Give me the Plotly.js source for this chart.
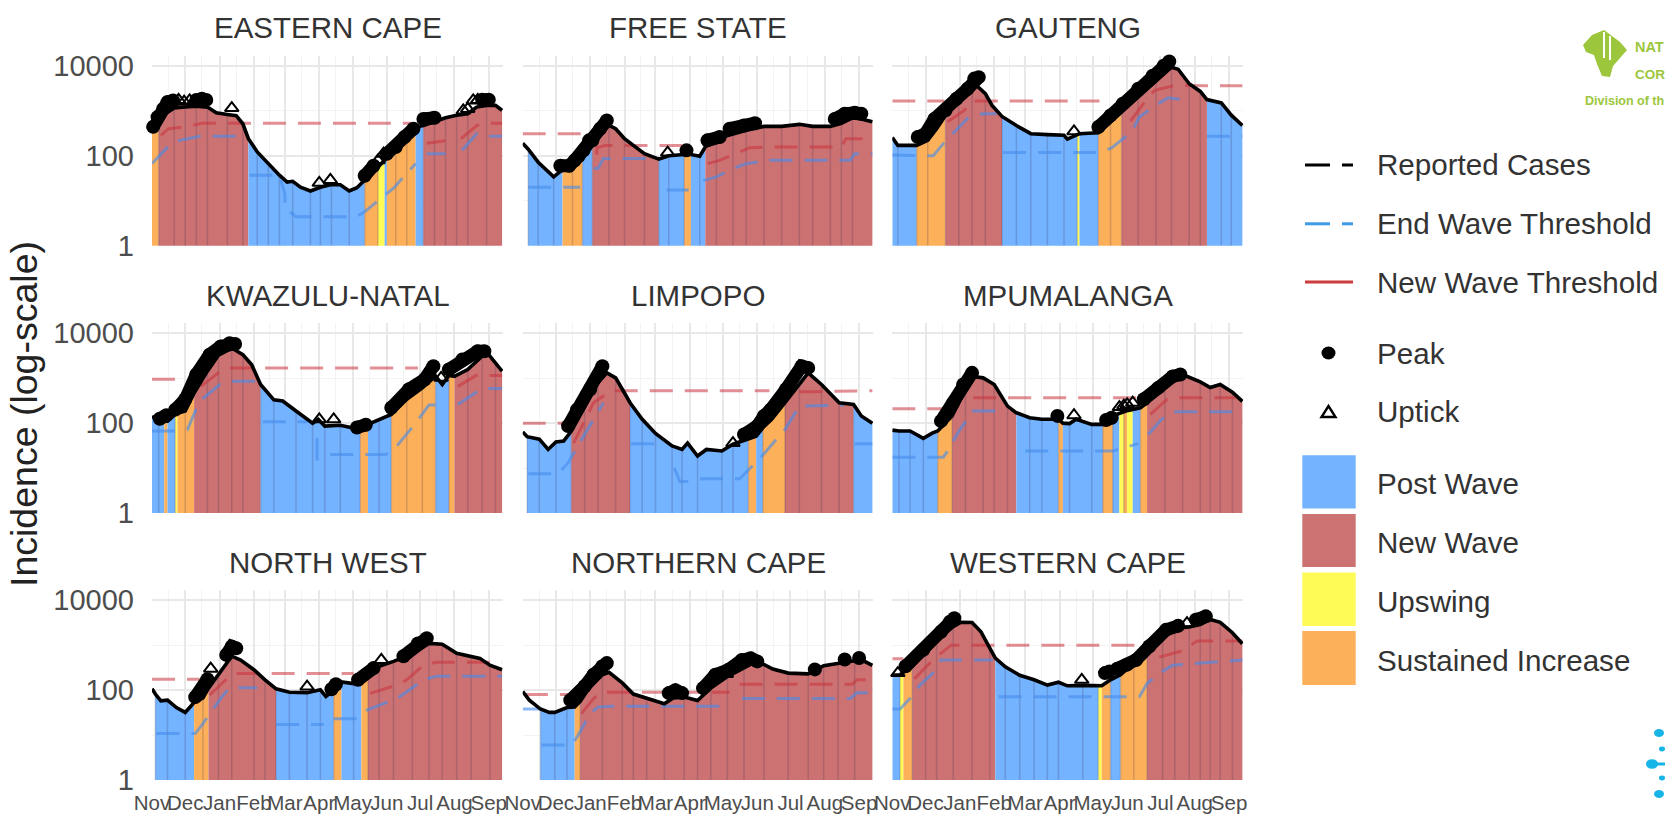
<!DOCTYPE html>
<html>
<head>
<meta charset="utf-8">
<script src="https://cdn.plot.ly/plotly-3.0.1.min.js"></script>
<style>html,body{margin:0;padding:0;background:#fff}</style>
</head>
<body>
<div id="chart" style="width:1665px;height:816px"></div>
<script>
// ---------- shared labels ----------
const provinces = ['EASTERN CAPE','FREE STATE','GAUTENG','KWAZULU-NATAL','LIMPOPO','MPUMALANGA','NORTH WEST','NORTHERN CAPE','WESTERN CAPE'];
const monthStarts = ['2020-11-01','2020-12-01','2021-01-01','2021-02-01','2021-03-01','2021-04-01','2021-05-01','2021-06-01','2021-07-01','2021-08-01','2021-09-01'];
const monthLabels = ['Nov','Dec','Jan','Feb','Mar','Apr','May','Jun','Jul','Aug','Sep'];
const midMonths = ['2020-11-16','2020-12-16','2021-01-16','2021-02-15','2021-03-16','2021-04-16','2021-05-16','2021-06-16','2021-07-16','2021-08-16'];
const yTicks = [1,100,10000];
const yTickText = ['1','100','10000'];
const yMinorTicks = [10,1000];
const stateColors = {P:'#74B3FF',N:'#CC7272',U:'#FEFB57',S:'#FDB05A'};
const legendLines = ['Reported Cases','End Wave Threshold','New Wave Threshold','Peak','Uptick'];
const legendBoxes = ['Post Wave','New Wave','Upswing','Sustained Increase'];

// Days are counted from 1 Nov 2020. Band states: P post wave, N new wave, U upswing, S sustained increase, - none.
// ---------- Eastern Cape ----------
const ecDays = [0,6,10,20,30,40,50,58,68,76,82,87,95,105,115,122,127,134,143,152,162,170,178,185,192,204,210,212,220,230,238,245,255,265,275,285,293,302,310,316];
const ecCases = [480,500,800,1150,1210,1260,1210,900,830,780,515,240,122,67,37,26,27,20,16.5,20,23,22.6,16.5,19.5,28.6,56,79,94,144,262,437,470,570,700,800,860,1210,1320,1320,1020];
const ecBandEnds = [6,87,192,204,210,212,238,245,316];
const ecBandStates = ['S','N','P','S','U','P','S','P','N'];
const ecPeakDays = [1,5,10,14,19,null,40,45,49,null,192,200,null,212,220,228,236,null,245,255,null,298,304];
const ecPeakVals = [440,725,1100,1560,1700,null,1750,1850,1750,null,36,60,null,111,157,262,400,null,660,700,null,1770,1770];
const ecUpDays = [24,29,34,38,72,151,161,204,209,281,285,290,294];
const ecUpVals = [1750,1600,1700,1650,1150,25,29,79,111,1020,1100,1700,1750];
const ecNewDays = [8,15,30,45,234,null,248,265,null,279,293,300,316];
const ecNewVals = [285,400,440,530,530,null,190,215,null,240,470,530,530];
const ecEndDays = [0,16,25,43,76,null,88,115,120,120,130,184,192,218,238,null,248,265,null,280,293,302,316];
const ecEndVals = [67,175,220,270,270,null,37,37,14,7,4.4,4.4,5.7,19,67,null,111,111,null,132,310,270,270];
// ---------- Free State ----------
const fsDays = [0,5,14,22,28,36,45,54,63,70,78,84,92,100,110,123,132,146,152,160,165,175,190,202,218,234,250,262,278,288,298,306,316];
const fsCases = [190,140,72,47,34,49,60,82,200,340,475,400,240,170,111,84,100,107,107,98,157,240,310,370,450,450,500,450,450,530,700,660,570];
const fsBandEnds = [5,36,54,63,123,146,152,165,316];
const fsBandStates = ['-','P','S','P','N','P','S','P','N'];
const fsPeakDays = [34,42,47,55,60,63,70,76,null,148,null,167,178,null,187,200,210,null,282,291,300,306];
const fsPeakVals = [60,60,79,132,220,220,400,610,null,132,null,220,262,null,400,470,530,null,660,860,900,860];
const fsUpDays = [131];
const fsUpVals = [118];
const fsNewDays = [0,22,32,53,null,67,67,74,94,100,145,null,167,178,196,205,220,288,292,316];
const fsNewVals = [310,310,310,310,null,105,150,170,170,170,170,null,67,79,122,150,157,157,240,240];
const fsEndDays = [5,52,null,64,68,73,115,null,130,150,null,163,175,190,202,223,296,300,316];
const fsEndVals = [20,20,null,52,52,87,87,null,17.3,17.3,null,28,34,52,67,79,79,111,111];
// ---------- Gauteng ----------
const gtDays = [0,5,22,32,40,48,60,72,76,84,90,99,112,125,140,155,158,167,169,186,197,207,222,238,252,258,268,278,284,297,306,316];
const gtCases = [255,170,170,220,400,790,1560,3100,3650,2400,1320,750,470,310,295,285,235,295,310,325,570,940,2000,4700,9300,8400,4000,2700,1780,1500,800,470];
const gtBandEnds = [22,48,99,167,169,186,207,284,316];
const gtBandStates = ['P','S','N','P','U','P','S','N','P'];
const gtPeakDays = [23,30,38,48,58,68,74,78,null,186,197,208,222,235,245,250];
const gtPeakVals = [262,310,660,1020,1860,3100,5200,5600,null,437,790,1440,3100,6000,10100,12500];
const gtUpDays = [164];
const gtUpVals = [350];
const gtNewDays = [0,47,null,50,65,72,187,null,215,228,237,254,316];
const gtNewVals = [1650,1650,null,570,1020,1650,1650,null,590,1600,2850,3650,3600];
const gtEndDays = [0,37,46,69,82,94,null,100,187,198,216,223,240,249,269,null,284,316];
const gtEndVals = [104,100,186,725,860,860,null,118,118,150,340,725,1440,1950,1700,null,270,270];
// ---------- KwaZulu-Natal ----------
const kzDays = [0,6,11,14,21,23,30,38,50,60,72,82,90,98,110,118,130,145,150,156,170,188,195,205,216,230,244,256,262,268,273,285,298,304,310,316];
const kzCases = [143,111,111,111,157,165,186,470,1440,3250,4700,3350,2000,725,330,310,186,100,122,86,90,72,94,122,157,340,610,1110,725,1150,1100,1560,3100,3350,2200,1440];
const kzBandEnds = [11,14,21,23,38,98,188,195,216,256,268,273,316];
const kzBandStates = ['P','S','P','U','S','N','P','S','P','S','P','S','N'];
const kzPeakDays = [7,13,null,21,30,40,52,62,70,75,null,185,193,null,216,232,246,254,null,268,280,294,300];
const kzPeakVals = [125,150,null,200,340,1210,3350,5100,6000,5800,null,80,92,null,220,570,940,1860,null,1560,2600,4000,4000];
const kzUpDays = [151,164,261];
const kzUpVals = [122,122,1020];
const kzNewDays = [0,22,null,44,60,70,240,null,276,294,300,316];
const kzNewVals = [950,950,null,660,1320,1700,1700,null,660,1210,1150,1150];
const kzEndDays = [0,22,32,41,47,61,70,95,null,100,140,null,149,149,160,211,220,238,250,265,null,276,294,300,316];
const kzEndVals = [67,67,72,240,370,725,860,860,null,107,107,null,47,16,20,20,29,100,255,255,null,262,515,590,590];
// ---------- Limpopo ----------
const lpDays = [0,4,15,23,30,37,44,56,68,76,84,92,97,108,120,135,144,149,158,166,180,190,204,211,217,225,237,250,258,270,277,286,299,306,316];
const lpCases = [64,50,44,26,38,40,67,220,790,1320,1020,470,285,122,59,31,26,36,18.6,26,24,34,44,51,79,122,285,725,1320,725,470,285,262,145,100];
const lpBandEnds = [4,44,97,204,211,217,237,299,316];
const lpBandStates = ['-','P','N','P','S','P','S','N','P'];
const lpPeakDays = [41,49,61,72,null,200,212,218,224,238,252,258];
const lpPeakVals = [86,200,570,1860,null,56,86,145,200,570,1860,1700];
const lpUpDays = [190];
const lpUpVals = [36];
const lpNewDays = [0,22,32,41,null,46,64,80,223,null,250,262,316];
const lpNewVals = [100,100,100,100,null,36,285,530,530,null,500,500,530];
const lpEndDays = [5,19,32,41,49,73,null,98,121,null,137,142,150,163,196,214,237,250,290,null,300,316];
const lpEndVals = [7.5,7.5,7.5,13,29,285,null,35,35,null,10,5,5,5.8,5.8,16,72,240,250,null,35,35];
// ---------- Mpumalanga ----------
const mpDays = [0,6,16,28,36,41,54,66,72,82,92,104,112,124,135,150,154,160,166,180,190,199,205,209,212,217,224,230,246,262,278,287,296,307,316];
const mpCases = [70,67,67,46,60,67,145,570,1100,1020,725,240,170,132,122,122,100,98,122,94,94,145,170,180,190,200,220,285,790,1210,830,620,725,490,305];
const mpBandEnds = [41,54,112,150,154,190,199,205,209,212,217,224,230,316];
const mpBandStates = ['P','S','N','P','S','P','S','P','U','S','U','P','S','N'];
const mpPeakDays = [44,55,64,72,null,149,null,193,198,null,227,240,253,260];
const mpPeakVals = [111,285,725,1320,null,145,null,118,132,null,340,610,1100,1210];
const mpUpDays = [164,205,209,212,217];
const mpUpVals = [150,228,245,262,285];
const mpNewDays = [0,46,null,73,88,220,null,233,248,256,316];
const mpNewVals = [210,210,null,370,370,370,null,157,340,370,370];
const mpEndDays = [0,46,50,61,73,96,null,120,187,199,222,null,231,243,254,316];
const mpEndVals = [17.5,17.5,24,72,186,186,null,24,24,24,35,null,56,122,180,180];
// ---------- North West ----------
const nwDays = [0,3,8,14,22,30,38,46,51,60,72,80,92,102,112,124,140,152,157,164,171,182,189,195,205,218,235,250,262,275,288,296,305,316];
const nwCases = [108,82,58,60,41,32,53,67,111,220,570,470,285,170,107,90,88,102,72,100,152,140,157,220,340,437,640,1100,1050,660,570,510,360,285];
const nwBandEnds = [3,38,51,112,164,171,189,195,316];
const nwBandStates = ['-','P','S','N','P','S','P','S','N'];
const nwPeakDays = [39,50,null,67,72,76,null,162,166,null,186,200,null,227,240,248];
const nwPeakVals = [70,175,null,610,940,860,null,105,135,null,170,310,null,570,1100,1440];
const nwUpDays = [53,140,207];
const nwUpVals = [300,120,470];
const nwNewDays = [0,43,null,52,66,75,182,null,197,221,230,245,257,316];
const nwNewVals = [175,175,null,78,165,235,235,null,85,130,170,360,420,420];
const nwEndDays = [4,39,46,63,70,95,null,112,155,null,164,183,194,221,230,245,257,316];
const nwEndVals = [10.8,10.8,18,71,113,113,null,17.3,17.3,null,23,23,36,65,92,170,205,205];
// ---------- Northern Cape ----------
const ncDays = [0,6,16,24,29,40,47,52,60,72,78,90,100,112,128,136,146,158,170,185,200,208,218,226,240,258,272,285,300,308,316];
const ncCases = [93,60,38,32,32,41,42,56,111,220,250,145,82,67,50,67,70,59,111,200,325,400,375,295,240,230,350,390,450,450,355];
const ncBandEnds = [16,47,52,316];
const ncBandStates = ['-','P','S','N'];
const ncPeakDays = [43,52,56,64,72,76,null,132,138,144,null,163,174,186,198,206,212,null,264,null,291,null,304];
const ncPeakVals = [60,94,122,220,340,400,null,86,100,86,null,111,220,285,470,515,437,null,290,null,480,null,520];
const ncUpDays = [184];
const ncUpVals = [230];
const ncNewDays = [2,44,null,53,64,71,187,null,196,298,302,316];
const ncNewVals = [80,80,null,30,65,90,90,null,135,135,170,170];
const ncEndDays = [0,16,null,17,44,49,61,68,80,187,null,198,296,302,316];
const ncEndVals = [38,38,null,6,6,9,30,42,44,44,null,65,65,88,88];
// ---------- Western Cape ----------
const wcDays = [0,7,10,18,30,40,55,62,72,80,88,93,102,115,128,140,150,158,172,186,189,197,206,218,230,244,255,268,278,287,296,307,316];
const wcCases = [217,220,250,340,725,1320,2600,3250,3200,2000,860,515,330,215,170,130,150,125,128,125,125,170,220,400,860,2000,2400,2550,2900,3750,3250,1900,1080];
const wcBandEnds = [7,10,18,93,186,189,197,206,230,316];
const wcBandStates = ['P','U','S','N','P','U','S','P','S','N'];
const wcPeakDays = [12,28,44,52,56,null,192,196,null,203,212,220,232,247,258,null,274,283];
const wcPeakVals = [340,790,2000,3350,4000,null,240,262,null,300,370,470,950,2200,2700,null,3700,4400];
const wcUpDays = [5,171,266];
const wcUpVals = [240,170,3100];
const wcNewDays = [0,10,null,20,31,38,53,223,null,241,263,275,316];
const wcNewVals = [500,500,null,180,330,510,1000,1000,null,545,770,1250,1250];
const wcEndDays = [0,7,16,25,38,44,91,null,96,223,230,241,253,316];
const wcEndVals = [38,38,65,130,260,470,470,null,71,71,140,235,360,470];

const panels = [
 {days:ecDays,cases:ecCases,ends:ecBandEnds,states:ecBandStates,pd:ecPeakDays,pv:ecPeakVals,ud:ecUpDays,uv:ecUpVals,nd:ecNewDays,nv:ecNewVals,ed:ecEndDays,ev:ecEndVals},
 {days:fsDays,cases:fsCases,ends:fsBandEnds,states:fsBandStates,pd:fsPeakDays,pv:fsPeakVals,ud:fsUpDays,uv:fsUpVals,nd:fsNewDays,nv:fsNewVals,ed:fsEndDays,ev:fsEndVals},
 {days:gtDays,cases:gtCases,ends:gtBandEnds,states:gtBandStates,pd:gtPeakDays,pv:gtPeakVals,ud:gtUpDays,uv:gtUpVals,nd:gtNewDays,nv:gtNewVals,ed:gtEndDays,ev:gtEndVals},
 {days:kzDays,cases:kzCases,ends:kzBandEnds,states:kzBandStates,pd:kzPeakDays,pv:kzPeakVals,ud:kzUpDays,uv:kzUpVals,nd:kzNewDays,nv:kzNewVals,ed:kzEndDays,ev:kzEndVals},
 {days:lpDays,cases:lpCases,ends:lpBandEnds,states:lpBandStates,pd:lpPeakDays,pv:lpPeakVals,ud:lpUpDays,uv:lpUpVals,nd:lpNewDays,nv:lpNewVals,ed:lpEndDays,ev:lpEndVals},
 {days:mpDays,cases:mpCases,ends:mpBandEnds,states:mpBandStates,pd:mpPeakDays,pv:mpPeakVals,ud:mpUpDays,uv:mpUpVals,nd:mpNewDays,nv:mpNewVals,ed:mpEndDays,ev:mpEndVals},
 {days:nwDays,cases:nwCases,ends:nwBandEnds,states:nwBandStates,pd:nwPeakDays,pv:nwPeakVals,ud:nwUpDays,uv:nwUpVals,nd:nwNewDays,nv:nwNewVals,ed:nwEndDays,ev:nwEndVals},
 {days:ncDays,cases:ncCases,ends:ncBandEnds,states:ncBandStates,pd:ncPeakDays,pv:ncPeakVals,ud:ncUpDays,uv:ncUpVals,nd:ncNewDays,nv:ncNewVals,ed:ncEndDays,ev:ncEndVals},
 {days:wcDays,cases:wcCases,ends:wcBandEnds,states:wcBandStates,pd:wcPeakDays,pv:wcPeakVals,ud:wcUpDays,uv:wcUpVals,nd:wcNewDays,nv:wcNewVals,ed:wcEndDays,ev:wcEndVals}
];

// ---------- page geometry ----------
const W = 1665, H = 816;
const colLeft = [152, 522.7, 892.3], colRight = [503, 873.3, 1243.3];
const rowTop = [55.5, 323, 590], rowBottom = [245.7, 513, 780];
const titleY = [28, 295, 562];
const px = x => x / W, py = y => 1 - y / H;
const FONT = '"Liberation Sans", Arial, sans-serif';
const toDate = d => d === null ? null : new Date(Date.UTC(2020,10,1) + d*864e5).toISOString().slice(0,10);

const traces = [], annotations = [], shapes = [];
const layout = {
  width:W, height:H, autosize:false, showlegend:false,
  margin:{l:0,r:0,t:0,b:0,pad:0}, paper_bgcolor:'#fff', plot_bgcolor:'#fff',
  font:{family:FONT,color:'#4d4d4d'}, hovermode:false
};

panels.forEach((p,i) => {
  const c = i%3, r = Math.floor(i/3), id = i===0 ? '' : String(i+1);
  const xref='x'+id, yref='y'+id;
  layout['xaxis'+id] = {
    type:'date', domain:[px(colLeft[c]),px(colRight[c])], anchor:yref,
    range:['2020-11-01','2021-09-13 20:00'],
    tickmode:'array', tickvals:monthStarts, ticktext:monthLabels, tickangle:0,
    showticklabels:r===2, ticks:'', ticklabelstandoff:8, ticklabeloverflow:'allow',
    tickfont:{size:20.5,color:'#4d4d4d',family:FONT},
    showgrid:true, gridcolor:'#e8e8e8', gridwidth:2, zeroline:false, showline:false,
    minor:{tickmode:'array',tickvals:midMonths,showgrid:true,gridcolor:'#f3f3f3',gridwidth:1,ticks:''}
  };
  layout['yaxis'+id] = {
    type:'log', domain:[py(rowBottom[r]),py(rowTop[r])], anchor:xref,
    range:[0,4.23], tickmode:'array', tickvals:yTicks, ticktext:yTickText,
    showticklabels:c===0, ticks:'', ticklabelstandoff:17,
    tickfont:{size:29,color:'#4d4d4d',family:FONT},
    showgrid:true, gridcolor:'#e8e8e8', gridwidth:2, zeroline:false, showline:false,
    minor:{tickmode:'array',tickvals:yMinorTicks,showgrid:true,gridcolor:'#f3f3f3',gridwidth:1,ticks:''}
  };

  // coloured state bands: the area under the reported curve, split at the band edges
  let start = 0;
  p.ends.forEach((end,k) => {
    const st = p.states[k];
    if (st !== '-') {
      const idx = p.days.map((d,j)=>j).filter(j => p.days[j]>=start && p.days[j]<=end);
      traces.push({type:'scatter',mode:'none',xaxis:xref,yaxis:yref,
        x:idx.map(j=>toDate(p.days[j])), y:idx.map(j=>p.cases[j]),
        fill:'tozeroy', fillcolor:stateColors[st], hoverinfo:'skip'});
    }
    start = end;
  });

  // faint seams inside the filled area
  const filledFrom = p.states[0]==='-' ? p.ends[0] : 0;
  const sx=[], sy=[]; let last=-99;
  p.days.forEach((d,j)=>{ if(d>=filledFrom && d-last>=9 && d>0 && d<316){ sx.push(toDate(d),toDate(d),null); sy.push(1,p.cases[j],null); last=d; }});
  traces.push({type:'scatter',mode:'lines',xaxis:xref,yaxis:yref,x:sx,y:sy,
    line:{color:'rgba(50,40,80,0.2)',width:1.5},hoverinfo:'skip'});

  // thresholds
  traces.push({type:'scatter',mode:'lines',xaxis:xref,yaxis:yref,x:p.ed.map(toDate),y:p.ev,
    line:{color:'rgba(70,140,235,0.62)',width:3,dash:'23px,12px'},hoverinfo:'skip'});
  traces.push({type:'scatter',mode:'lines',xaxis:xref,yaxis:yref,x:p.nd.map(toDate),y:p.nv,
    line:{color:'rgba(200,50,60,0.55)',width:3,dash:'23px,12px'},hoverinfo:'skip'});

  // reported cases
  traces.push({type:'scatter',mode:'lines',xaxis:xref,yaxis:yref,x:p.days.map(toDate),y:p.cases,
    line:{color:'#000',width:3.6},hoverinfo:'skip'});

  // peaks: overlapping dots merging into a thick band
  traces.push({type:'scatter',mode:'lines+markers',xaxis:xref,yaxis:yref,x:p.pd.map(toDate),y:p.pv,
    line:{color:'#000',width:13}, marker:{color:'#000',size:14,symbol:'circle'},
    connectgaps:false,cliponaxis:false,hoverinfo:'skip'});
  // upticks
  traces.push({type:'scatter',mode:'markers',xaxis:xref,yaxis:yref,x:p.ud.map(toDate),y:p.uv,
    marker:{symbol:'triangle-up-open',color:'#000',size:12,line:{width:2,color:'#000'}},
    cliponaxis:false,hoverinfo:'skip'});

  annotations.push({xref:'paper',yref:'paper',x:px((colLeft[c]+colRight[c])/2),y:py(titleY[r]),
    text:provinces[i],showarrow:false,xanchor:'center',yanchor:'middle',
    font:{size:29.5,color:'#333',family:FONT}});
});

// y axis title
annotations.push({xref:'paper',yref:'paper',x:px(24),y:py(414),text:'Incidence (log-scale)',textangle:-90,
  showarrow:false,xanchor:'center',yanchor:'middle',font:{size:37.5,color:'#222',family:FONT}});

// ---------- hand-built legend at the right ----------
const legendTextX = 1374.5;
const lineKeyY = [165,223.8,282], markKeyY = [353,411.6], boxTextY = [483.4,542,601,660];
const boxTop = [455.3,514,572.4,631], boxBottom = [508.4,567,626,685];
const addText = (t,x,y,size,color,bold) => annotations.push({xref:'paper',yref:'paper',x:px(x),y:py(y),text:bold?'<b>'+t+'</b>':t,
  showarrow:false,xanchor:'left',yanchor:'middle',font:{size,color,family:FONT}});
const hline = (x0,x1,y,color,w) => shapes.push({type:'line',xref:'paper',yref:'paper',x0:px(x0),x1:px(x1),y0:py(y),y1:py(y),line:{color,width:w}});

addText(legendLines[0],legendTextX,lineKeyY[0],29.6,'#333');
addText(legendLines[1],legendTextX,lineKeyY[1],29.6,'#333');
addText(legendLines[2],legendTextX,lineKeyY[2],29.6,'#333');
addText(legendLines[3],legendTextX,markKeyY[0],29.6,'#333');
addText(legendLines[4],legendTextX,markKeyY[1],29.6,'#333');
hline(1305,1330,lineKeyY[0],'#000',3); hline(1342,1353,lineKeyY[0],'#000',3);
hline(1305,1330,lineKeyY[1],'#3f9ae8',3); hline(1342,1353,lineKeyY[1],'#3f9ae8',3);
hline(1305,1353,lineKeyY[2],'#cc3b3b',3);
shapes.push({type:'circle',xref:'paper',yref:'paper',x0:px(1321.5),x1:px(1335.5),y0:py(346.5),y1:py(359.5),fillcolor:'#000',line:{width:0}});
shapes.push({type:'path',xref:'paper',yref:'paper',
  path:`M ${px(1321.5)} ${py(417)} L ${px(1335.5)} ${py(417)} L ${px(1328.5)} ${py(406)} Z`,line:{color:'#000',width:2.4}});
legendBoxes.forEach((t,k)=>{
  addText(t,legendTextX,boxTextY[k],29.6,'#333');
  shapes.push({type:'rect',xref:'paper',yref:'paper',x0:px(1302.3),x1:px(1355.7),y0:py(boxTop[k]),y1:py(boxBottom[k]),
    fillcolor:[stateColors.P,stateColors.N,stateColors.U,stateColors.S][k],line:{width:0}});
});

// ---------- logos in the right margin ----------
const G = '#9CC63B';
const lg = [[1583,45],[1592,35],[1604,30],[1612,36],[1620,42],[1627,50],[1620,58],[1613,66],[1610,77],[1602,76],[1597,64],[1594,55],[1586,52]];
shapes.push({type:'path',xref:'paper',yref:'paper',fillcolor:G,line:{width:0},
  path:'M '+lg.map(q=>px(q[0])+' '+py(q[1])).join(' L ')+' Z'});
shapes.push({type:'line',xref:'paper',yref:'paper',x0:px(1604),x1:px(1604),y0:py(32),y1:py(58),line:{color:'#fff',width:2}});
shapes.push({type:'line',xref:'paper',yref:'paper',x0:px(1610),x1:px(1610),y0:py(36),y1:py(60),line:{color:'#fff',width:2}});
addText('NAT',1633,47,14.5,G,true);
addText('COR',1633,74,13.5,G,true);
addText('Division of th',1583,101,12.5,G,true);
const B = '#17B4E8';
const dots = [[1659,733,5],[1662,749,3],[1652,764,6],[1662,778,3],[1659,794,5]];
dots.forEach(q=>shapes.push({type:'circle',xref:'paper',yref:'paper',x0:px(q[0]-q[2]),x1:px(q[0]+q[2]),y0:py(q[1]-q[2]*0.8),y1:py(q[1]+q[2]*0.8),fillcolor:B,line:{width:0}}));
hline(1652,1665,764,B,3);

layout.annotations = annotations;
layout.shapes = shapes;
Plotly.newPlot('chart',traces,layout,{displayModeBar:false,staticPlot:true});
</script>
</body>
</html>
